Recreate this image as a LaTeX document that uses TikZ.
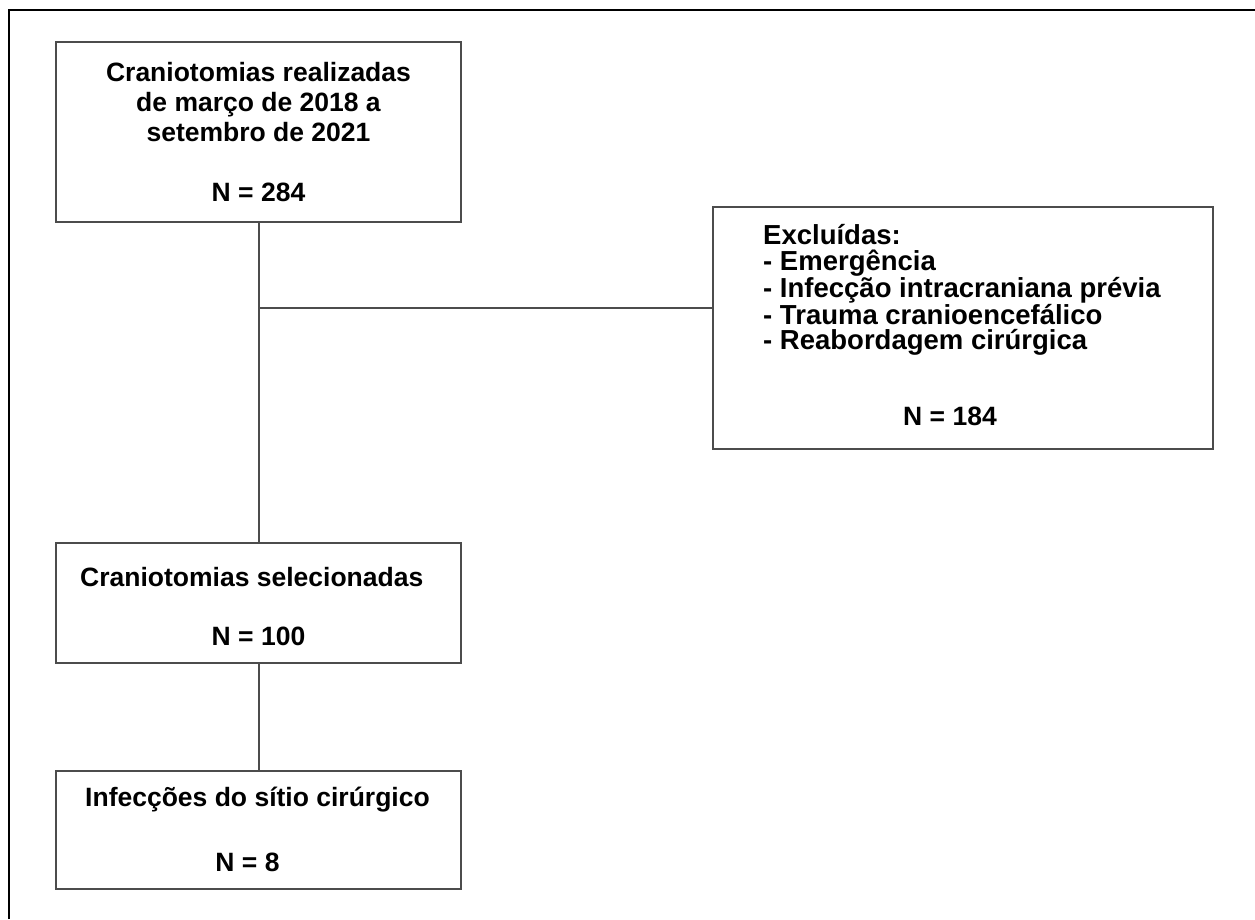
\documentclass[tikz,border=0pt]{standalone}
\usepackage{fontspec}
\setmainfont{Liberation Sans}
\tikzset{
    caixa/.style={draw=black!70, line width=2pt, minimum width=405pt, inner sep=0pt},
    texto/.style={inner sep=0pt, font=\fontsize{26.5}{30}\selectfont\bfseries},
    lista/.style={texto, align=left, font=\fontsize{27.5}{25.5}\selectfont\bfseries},
    ligacao/.style={draw=black!70, line width=2pt},
}
\begin{document}
\begin{tikzpicture}[x=1pt, y=-1pt]
    \useasboundingbox (0, 0) rectangle (1255, 919);
        \draw[line width=2pt] (9, 919) -- (9, 10) -- (1255, 10);        %
        \node[caixa, minimum height=180pt] (realizadas) at (258.5, 132) {};
        \node[texto, align=center] (realizadasT) at (258.5, 102) {Craniotomias realizadas\\de março de 2018 a\\setembro de 2021};
        \node[texto] (realizadasN) at (258.5, 192) {N = 284};
        \node[caixa, minimum width=500pt, minimum height=242pt] (excluidas) at (963, 328) {};
        \node[lista, anchor=west] (excluidasT) at (763, 290) {Excluídas:\\- Emergência\\- Infecção intracraniana prévia\\- Trauma cranioencefálico\\- Reabordagem cirúrgica};
        \node[texto] (excluidasN) at (950, 416) {N = 184};
        \node[caixa, minimum height=120pt] (selecionadas) at (258.5, 603) {};
        \node[texto, anchor=west] (selecionadasT) at (80, 577) {Craniotomias selecionadas};
        \node[texto] (selecionadasN) at (258.5, 636) {N = 100};
        \node[caixa, minimum height=118pt] (infeccoes) at (258.5, 830) {};
        \node[texto, anchor=west] (infeccoesT) at (85, 800) {Infecções do sítio cirúrgico};
        \node[texto] (infeccoesN) at (247.5, 862) {N = 8};
        \coordinate (ramo) at (258.5, 308);
        \draw[ligacao] (realizadas.south) -- (selecionadas.north);
        \draw[ligacao] (ramo) -- (ramo -| excluidas.west);
        \draw[ligacao] (selecionadas.south) -- (infeccoes.north);
    \end{tikzpicture}
\end{document}
